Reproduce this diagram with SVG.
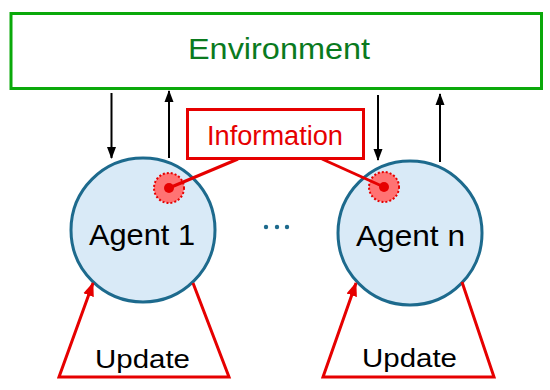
<svg xmlns="http://www.w3.org/2000/svg" width="550" height="390" viewBox="0 0 550 390">
  <defs>
    <style>
      .txt { font-family: "Liberation Sans", Arial, sans-serif; text-anchor: middle; }
      .agent { fill: #d9eaf7; stroke: #1d6a8d; stroke-width: 3; }
      .blk { stroke: #000; stroke-width: 2; fill: none; }
      .red { stroke: #e60000; stroke-width: 3; fill: none; }
      .halo { fill: #ff7373; stroke: #e60000; stroke-width: 2; stroke-dasharray: 2 2; }
      .core { fill: #e60000; }
    </style>
    <marker id="ab" markerUnits="userSpaceOnUse" markerWidth="12" markerHeight="12" viewBox="0 0 12 12" refX="11" refY="6" orient="auto">
      <path d="M0,1.5 L12,6 L0,10.5 Z" fill="#000"/>
    </marker>
    <marker id="ar" markerUnits="userSpaceOnUse" markerWidth="14" markerHeight="14" viewBox="0 0 14 14" refX="13" refY="7" orient="auto">
      <path d="M0,1.5 L14,7 L0,12.5 Z" fill="#e60000"/>
    </marker>
  </defs>

  <g id="environment">
    <rect x="11" y="13.5" width="530.5" height="75" fill="#fff" stroke="#0aa90a" stroke-width="3"/>
    <text class="txt" x="279" y="59" font-size="30" fill="#0a7a1e" textLength="182" lengthAdjust="spacingAndGlyphs">Environment</text>
  </g>

  <g id="information">
    <rect x="187.5" y="109.5" width="176" height="49" fill="#fff" stroke="#e60000" stroke-width="3"/>
    <text class="txt" x="275" y="145" font-size="27" fill="#e60000" textLength="136" lengthAdjust="spacingAndGlyphs">Information</text>
  </g>

  <g id="agent1">
    <circle class="agent" cx="143" cy="230" r="72"/>
    <text class="txt" x="142" y="245" font-size="30" fill="#000" textLength="106" lengthAdjust="spacingAndGlyphs">Agent 1</text>
    <circle class="halo" cx="169" cy="188" r="15"/>
    <circle class="core" cx="169" cy="188" r="5"/>
  </g>

  <g id="agentn">
    <circle class="agent" cx="410" cy="233" r="72"/>
    <text class="txt" x="410.5" y="246" font-size="30" fill="#000" textLength="109" lengthAdjust="spacingAndGlyphs">Agent n</text>
    <circle class="halo" cx="384" cy="187" r="15"/>
    <circle class="core" cx="384" cy="187" r="5"/>
  </g>

  <g id="ellipsis" fill="#1d6a8d">
    <circle cx="266" cy="227" r="2.2"/>
    <circle cx="277" cy="227" r="2.2"/>
    <circle cx="287" cy="227" r="2.2"/>
  </g>

  <g id="update1">
    <text class="txt" x="142.5" y="368" font-size="26" fill="#000" textLength="95" lengthAdjust="spacingAndGlyphs">Update</text>
  </g>
  <g id="updaten">
    <text class="txt" x="409.5" y="367" font-size="26" fill="#000" textLength="95" lengthAdjust="spacingAndGlyphs">Update</text>
  </g>

  <g id="connectors">
    <line class="blk" x1="111.5" y1="93" x2="111.5" y2="158" marker-end="url(#ab)"/>
    <line class="blk" x1="169" y1="158" x2="169" y2="91" marker-end="url(#ab)"/>
    <line class="blk" x1="378" y1="95" x2="378" y2="160" marker-end="url(#ab)"/>
    <line class="blk" x1="440" y1="162" x2="440" y2="94" marker-end="url(#ab)"/>
    <line class="red" x1="169" y1="188" x2="238" y2="159"/>
    <line class="red" x1="322" y1="159" x2="384" y2="187"/>
    <polyline class="red" points="193,283 229,377 59,377 93,283" stroke-linejoin="miter" marker-end="url(#ar)"/>
    <polyline class="red" points="462,282 494,377 323,377 356,283" stroke-linejoin="miter" marker-end="url(#ar)"/>
  </g>
</svg>
